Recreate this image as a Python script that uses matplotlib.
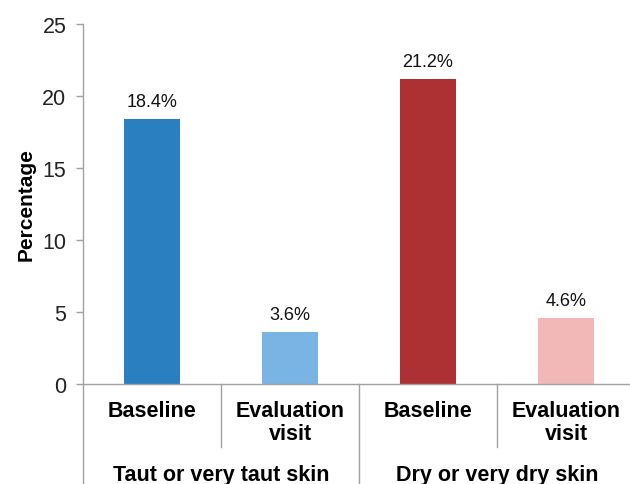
import matplotlib
matplotlib.use("Agg")
import matplotlib.pyplot as plt

plt.rcParams['font.family'] = ['Liberation Sans', 'DejaVu Sans']

groups = ["Taut or very taut skin", "Dry or very dry skin"]
visits = ["Baseline", "Evaluation\nvisit"]
values = [18.4, 3.6, 21.2, 4.6]
labels = ["18.4%", "3.6%", "21.2%", "4.6%"]
colors = ["#2a7fc0", "#7ab4e4", "#ad3033", "#f2b8b8"]
yticks = [0, 5, 10, 15, 20, 25]

fig = plt.figure(figsize=(6.3, 4.85), dpi=100)
ax = fig.add_axes([83/630, 1-385/485, (635-83)/630, (385-25)/485])

x = list(range(len(values)))
ax.bar(x, values, width=0.4, color=colors, edgecolor='none')
for xi, v, lab in zip(x, values, labels):
    ax.annotate(lab, (xi, v), xytext=(0, 6.5), textcoords='offset points',
                ha='center', va='bottom', fontsize=13, color='#111111')

ax.set_xlim(-0.5, 3.5)
ax.set_ylim(0, 25)
ax.set_yticks(yticks)
ax.set_yticklabels([str(t) for t in yticks], fontsize=15.5, color='#222222')
ax.tick_params(axis='y', direction='out', length=5, color='#a0a0a0', width=1, pad=7)
ax.set_xticks([])
for s in ['top', 'right', 'left']:
    ax.spines[s].set_visible(False)
ax.spines['bottom'].set_color('#a0a0a0')
ax.spines['bottom'].set_linewidth(1)

ax.set_ylabel("Percentage", fontsize=15, fontweight='bold', labelpad=5)

tr = ax.get_xaxis_transform()
lc = '#a0a0a0'
# y axis line extended down
ax.plot([-0.5, -0.5], [-0.35, 1.0], transform=tr, color=lc, lw=1, clip_on=False)
# group separator
ax.plot([1.5, 1.5], [-0.35, 0], transform=tr, color=lc, lw=1, clip_on=False)
# inner separators
for sx in [0.5, 2.5]:
    ax.plot([sx, sx], [-0.175, 0], transform=tr, color=lc, lw=1, clip_on=False)

for i in range(len(values)):
    ax.text(i, -0.045, visits[i % 2], transform=tr, ha='center', va='top',
            fontsize=15.5, fontweight='bold', linespacing=1.1)
for g, name in enumerate(groups):
    ax.text(2*g + 0.5, -0.222, name, transform=tr, ha='center', va='top',
            fontsize=15.5, fontweight='bold')

fig.savefig("out.png", dpi=100)
